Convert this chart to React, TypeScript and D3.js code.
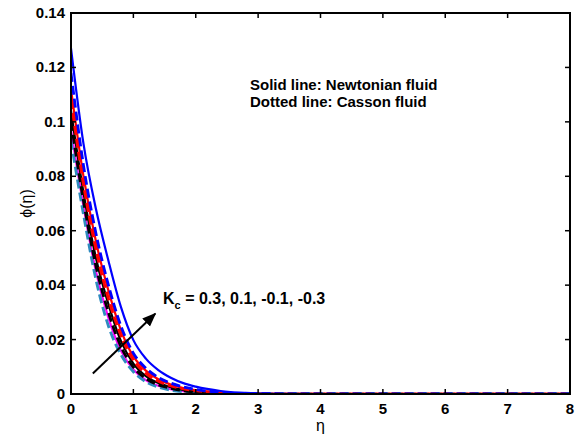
import React from "react";
import * as d3 from "d3";

const etaGrid = [0, 0.2, 0.4, 0.6, 0.8, 1.0, 1.2, 1.4, 1.6, 1.8, 2.0, 2.4, 2.8, 3.2, 4, 5, 6, 7, 8];

const newtonianBlue = [0.127, 0.092, 0.068, 0.049, 0.032, 0.0198, 0.013, 0.0088, 0.006, 0.004, 0.0027, 0.0011, 0.0004, 0.0001, 0, 0, 0, 0, 0];
const cassonBlue = [0.118, 0.084, 0.059, 0.040, 0.025, 0.015, 0.0095, 0.0061, 0.004, 0.0026, 0.0017, 0.0006, 0.0002, 0.0001, 0, 0, 0, 0, 0];
const newtonianRed = [0.112, 0.080, 0.056, 0.038, 0.0235, 0.0138, 0.0086, 0.0054, 0.0035, 0.0022, 0.0014, 0.0005, 0.0002, 0, 0, 0, 0, 0, 0];
const cassonRed = [0.108, 0.077, 0.053, 0.035, 0.0215, 0.0125, 0.0076, 0.0047, 0.003, 0.0019, 0.0012, 0.0004, 0.0001, 0, 0, 0, 0, 0, 0];
const newtonianBlack = [0.104, 0.074, 0.050, 0.033, 0.0195, 0.0112, 0.0066, 0.004, 0.0025, 0.0015, 0.0009, 0.0003, 0.0001, 0, 0, 0, 0, 0, 0];
const cassonBlack = [0.100, 0.071, 0.047, 0.030, 0.0175, 0.0099, 0.0057, 0.0034, 0.0021, 0.0012, 0.0007, 0.0002, 0.0001, 0, 0, 0, 0, 0, 0];
const newtonianMagenta = [0.097, 0.069, 0.045, 0.028, 0.016, 0.009, 0.0051, 0.003, 0.0018, 0.001, 0.0006, 0.0002, 0, 0, 0, 0, 0, 0, 0];
const cassonSteel = [0.093, 0.066, 0.042, 0.025, 0.0145, 0.0082, 0.0045, 0.0025, 0.0014, 0.0008, 0.0004, 0.0001, 0, 0, 0, 0, 0, 0, 0];

const xTicks = [0, 1, 2, 3, 4, 5, 6, 7, 8];
const yTicks = [0, 0.02, 0.04, 0.06, 0.08, 0.1, 0.12, 0.14];
const yTickLabels = ["0", "0.02", "0.04", "0.06", "0.08", "0.1", "0.12", "0.14"];

const series = [
  { values: newtonianMagenta, color: "#ff00ff", dash: null, width: 2.2 },
  { values: cassonSteel, color: "#2e8bc0", dash: "9,4", width: 2.8 },
  { values: newtonianBlack, color: "#000000", dash: null, width: 2.2 },
  { values: cassonBlack, color: "#000000", dash: "9,4", width: 2.8 },
  { values: newtonianRed, color: "#ff0000", dash: null, width: 2.2 },
  { values: cassonRed, color: "#ff0000", dash: "9,4", width: 2.8 },
  { values: cassonBlue, color: "#0000ff", dash: "9,4", width: 2.8 },
  { values: newtonianBlue, color: "#0000ff", dash: null, width: 2.2 },
];

const L = 71, R = 570, T = 13, B = 394;
const font = "'Liberation Sans', Arial, sans-serif";

export default function App() {
  const x = d3.scaleLinear().domain([0, 8]).range([L, R]);
  const y = d3.scaleLinear().domain([0, 0.14]).range([B, T]);
  const line = d3
    .line<number>()
    .x((_, i) => x(etaGrid[i]))
    .y((v) => y(v))
    .curve(d3.curveMonotoneX);

  const arrowStart = { x: x(0.35), y: y(0.0075) };
  const arrowEnd = { x: x(1.35), y: y(0.0295) };

  return (
    <svg width={575} height={436} style={{ position: "absolute", left: 0, top: 0, background: "#fff" }}>
      <rect x={0} y={0} width={575} height={436} fill="#fff" />
      <defs>
        <clipPath id="plotclip">
          <rect x={L} y={T - 2} width={R - L} height={B - T + 2} />
        </clipPath>
        <marker id="arrowhead" viewBox="0 0 10 10" refX={9} refY={5} markerWidth={7} markerHeight={7} orient="auto" markerUnits="strokeWidth">
          <path d="M0,1 L10,5 L0,9 z" fill="#000" />
        </marker>
      </defs>
      <g clipPath="url(#plotclip)">
        {series.map((s, i) => (
          <path
            key={i}
            d={line(s.values) || ""}
            fill="none"
            stroke={s.color}
            strokeWidth={s.width}
            strokeDasharray={s.dash || undefined}
          />
        ))}
      </g>
      <rect x={L} y={T} width={R - L} height={B - T} fill="none" stroke="#000" strokeWidth={2} />
      {xTicks.map((t) => (
        <g key={"x" + t}>
          <line x1={x(t)} x2={x(t)} y1={B} y2={B - 5} stroke="#000" strokeWidth={1.5} />
          <line x1={x(t)} x2={x(t)} y1={T} y2={T + 5} stroke="#000" strokeWidth={1.5} />
          <text x={x(t)} y={B + 20} textAnchor="middle" fontFamily={font} fontWeight="bold" fontSize={15}>
            {t}
          </text>
        </g>
      ))}
      {yTicks.map((t, i) => (
        <g key={"y" + t}>
          <line x1={L} x2={L + 5} y1={y(t)} y2={y(t)} stroke="#000" strokeWidth={1.5} />
          <line x1={R} x2={R - 5} y1={y(t)} y2={y(t)} stroke="#000" strokeWidth={1.5} />
          <text x={L - 6} y={y(t) + 5} textAnchor="end" fontFamily={font} fontWeight="bold" fontSize={15}>
            {yTickLabels[i]}
          </text>
        </g>
      ))}
      <text x={(L + R) / 2} y={431} textAnchor="middle" fontFamily={font} fontSize={16}>
        η
      </text>
      <text
        transform={`translate(32, ${(T + B) / 2}) rotate(-90)`}
        textAnchor="middle"
        fontFamily={font}
        fontSize={16}
      >
        ϕ(η)
      </text>
      <text x={250} y={90} fontFamily={font} fontWeight="bold" fontSize={15}>
        Solid line: Newtonian fluid
      </text>
      <text x={250} y={107} fontFamily={font} fontWeight="bold" fontSize={15}>
        Dotted line: Casson fluid
      </text>
      <line
        x1={arrowStart.x}
        y1={arrowStart.y}
        x2={arrowEnd.x}
        y2={arrowEnd.y}
        stroke="#000"
        strokeWidth={2}
        markerEnd="url(#arrowhead)"
      />
      <text x={163} y={304} fontFamily={font} fontWeight="bold" fontSize={16}>
        K
        <tspan fontSize={11} dy={5}>c</tspan>
        <tspan dy={-5}> = 0.3, 0.1, -0.1, -0.3</tspan>
      </text>
    </svg>
  );
}
